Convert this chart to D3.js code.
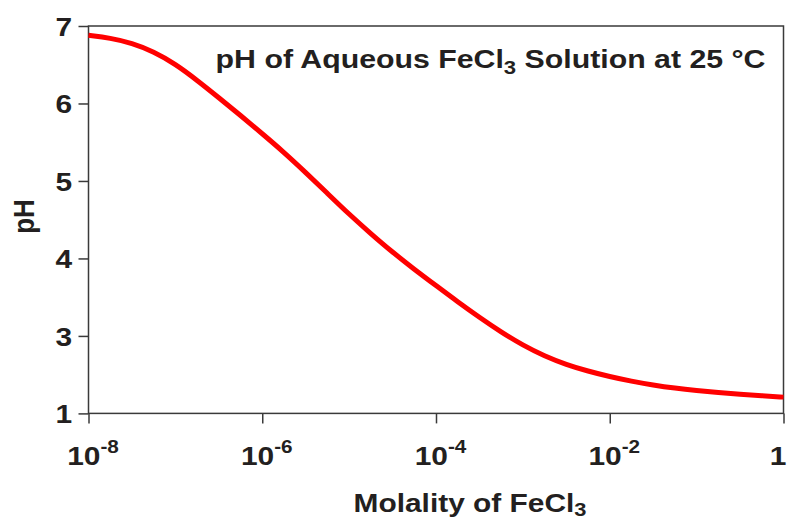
<!DOCTYPE html>
<html>
<head>
<meta charset="utf-8">
<script src="https://cdn.jsdelivr.net/npm/d3@7"></script>
<style>
  html, body { margin: 0; padding: 0; background: #fff; }
  svg { display: block; }
  text { font-family: "Liberation Sans", Arial, Helvetica, sans-serif; font-weight: bold; fill: #231f20; }
</style>
</head>
<body>
<script>
// ---- data ----
const logMolality = [-8, -7.75, -7.5, -7.25, -7, -6.75, -6.5, -6.25, -6, -5.75, -5.5, -5.25, -5, -4.75, -4.5, -4.25, -4, -3.75, -3.5, -3.25, -3, -2.75, -2.5, -2.25, -2, -1.75, -1.5, -1.25, -1, -0.75, -0.5, -0.25, 0];
const pHValues   = [6.88, 6.845, 6.78, 6.67, 6.51, 6.30, 6.075, 5.845, 5.61, 5.37, 5.11, 4.84, 4.57, 4.32, 4.08, 3.86, 3.65, 3.44, 3.24, 3.05, 2.88, 2.74, 2.63, 2.545, 2.475, 2.415, 2.365, 2.325, 2.295, 2.27, 2.248, 2.228, 2.21];
const xTickExponents = [-8, -6, -4, -2, 0];
const yTickValues = [2, 3, 4, 5, 6, 7];
const yTickLabels = ["1", "3", "4", "5", "6", "7"];
const titleMain = "pH of Aqueous FeCl";
const titleSub = "3";
const titleRest = " Solution at 25 °C";
const xTitleMain = "Molality of FeCl";
const xTitleSub = "3";
const yTitle = "pH";

// ---- layout ----
const W = 787, H = 519;
const m = { left: 88.5, right: 3.5, top: 26, bottom: 105.6 };
const x0 = m.left, x1 = W - m.right, y0 = m.top, y1 = H - m.bottom;
const SX = 1.15; // horizontal stretch of the lettering
const FS = 26;

const svg = d3.select("body").append("svg").attr("width", W).attr("height", H);

const x = d3.scaleLog().domain([1e-8, 1]).range([x0, x1]);
const y = d3.scaleLinear().domain([2, 7]).range([y1, y0]);

const axisColor = "#3a3a3a";

// frame
svg.append("rect")
  .attr("x", x0).attr("y", y0).attr("width", x1 - x0).attr("height", y1 - y0)
  .attr("fill", "none").attr("stroke", axisColor).attr("stroke-width", 1.5);

// y axis
const yAxis = d3.axisLeft(y).tickValues(yTickValues).tickFormat("").tickSize(10);
const gy = svg.append("g").attr("transform", `translate(${x0},0)`).call(yAxis);
gy.select(".domain").remove();
gy.selectAll(".tick line").attr("stroke", axisColor).attr("stroke-width", 1.5);
gy.selectAll(".tick").each(function(d, i) {
  d3.select(this).append("g").attr("transform", `translate(-16.5,0) scale(${SX},1)`)
    .append("text").attr("text-anchor", "end").attr("dy", "0.36em")
    .attr("font-size", FS).attr("fill", "#231f20").text(yTickLabels[i]);
});

// x axis
const xAxis = d3.axisBottom(x).tickValues(xTickExponents.map(e => Math.pow(10, e)))
  .tickFormat("").tickSize(10);
const gx = svg.append("g").attr("transform", `translate(0,${y1})`).call(xAxis);
gx.select(".domain").remove();
gx.selectAll(".tick line").attr("stroke", axisColor).attr("stroke-width", 1.5);
gx.selectAll(".tick").each(function(d, i) {
  const e = xTickExponents[i];
  const last = i === xTickExponents.length - 1;
  const g = d3.select(this).append("g")
    .attr("transform", `translate(${last ? -6 : 4},52) scale(${SX},1)`);
  const t = g.append("text").attr("text-anchor", "middle")
    .attr("font-size", FS).attr("fill", "#231f20");
  if (e === 0) {
    t.text("1");
  } else {
    t.append("tspan").text("10");
    t.append("tspan").attr("font-size", 18).attr("dy", -12).text(String(e));
  }
});

// curve
const pts = logMolality.map((lm, i) => [Math.pow(10, lm), pHValues[i]]);
svg.append("path").datum(pts)
  .attr("fill", "none").attr("stroke", "#ff0000").attr("stroke-width", 5)
  .attr("d", d3.line().x(d => x(d[0])).y(d => y(d[1])).curve(d3.curveBasis));

// title
const title = svg.append("g").attr("transform", `translate(${x1 - 18},68) scale(1.165,1)`)
  .append("text").attr("text-anchor", "end").attr("font-size", FS);
title.append("tspan").text(titleMain);
title.append("tspan").attr("font-size", 19).attr("dy", 6).text(titleSub);
title.append("tspan").attr("dy", -6).text(titleRest);

// x title
const xt = svg.append("g").attr("transform", `translate(470,512) scale(${SX},1)`)
  .append("text").attr("text-anchor", "middle").attr("font-size", FS);
xt.append("tspan").text(xTitleMain);
xt.append("tspan").attr("font-size", 19).attr("dy", 4).text(xTitleSub);

// y title
svg.append("g").attr("transform", `translate(34,216.5) scale(${SX},1) rotate(-90)`)
  .append("text").attr("text-anchor", "middle").attr("font-size", FS).text(yTitle);
</script>
</body>
</html>
